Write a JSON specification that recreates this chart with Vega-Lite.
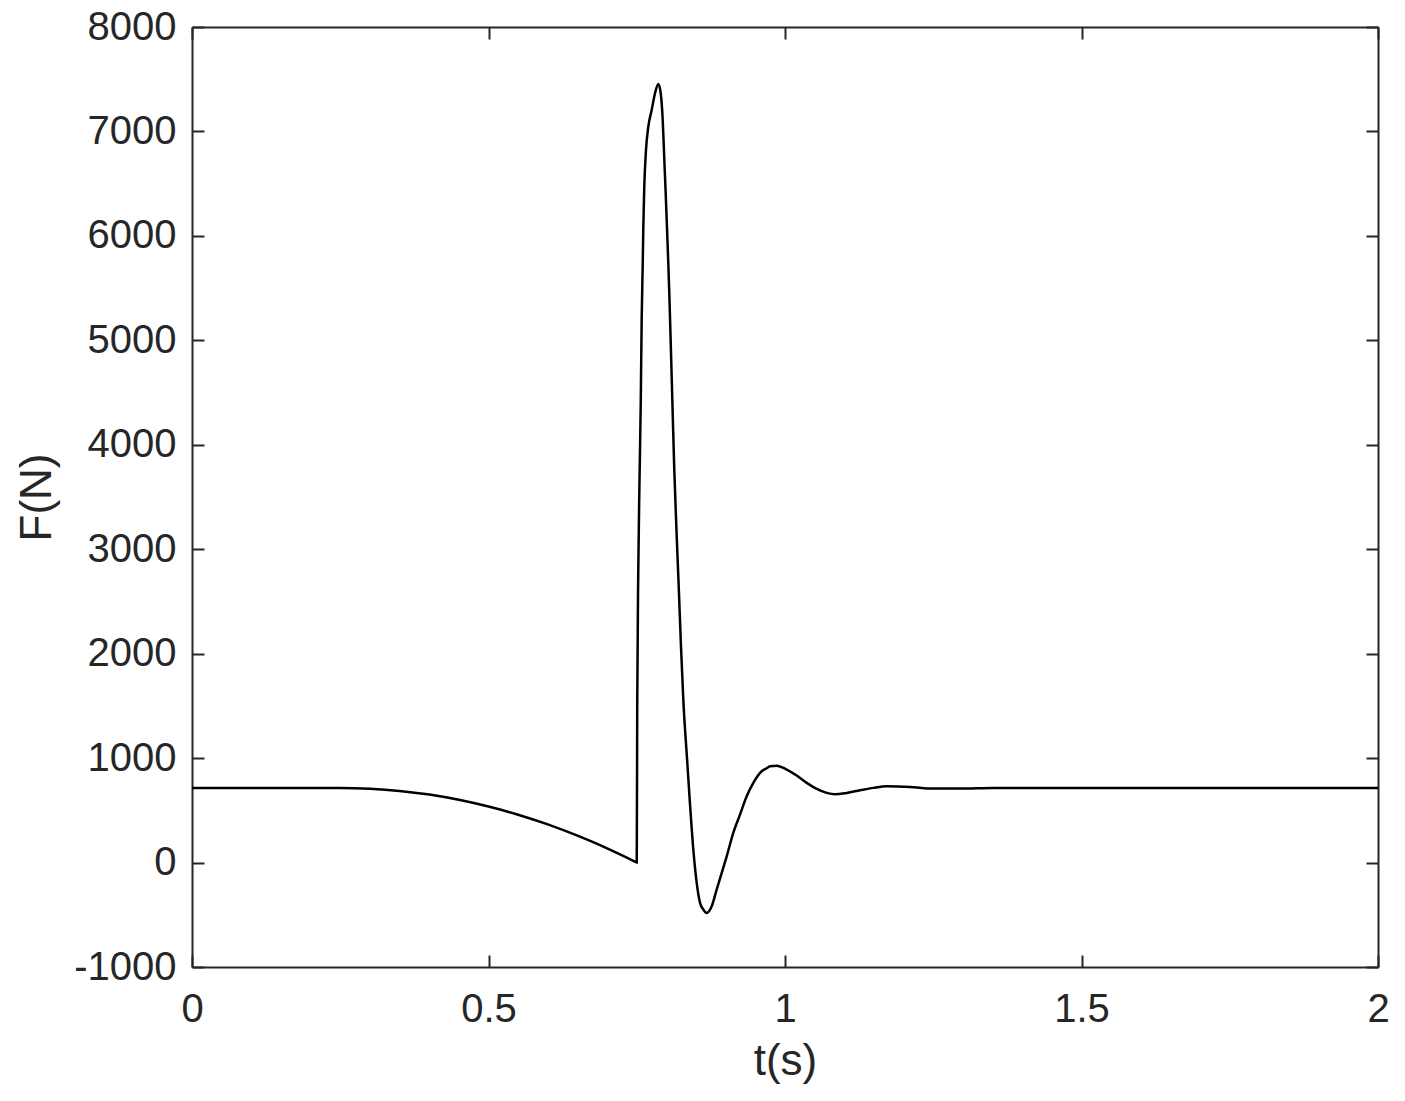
{
  "$schema": "https://vega.github.io/schema/vega-lite/v6.json",
  "width": 1186,
  "height": 940,
  "autosize": {"type": "none"},
  "padding": {"left": 192, "top": 27, "right": 27, "bottom": 134},
  "background": "white",
  "config": {
    "view": {"stroke": null},
    "axis": {
      "grid": false,
      "domainColor": "#262626",
      "domainWidth": 2,
      "tickColor": "#262626",
      "tickWidth": 2,
      "tickSize": -12,
      "labelFlush": false,
      "labelFont": "Liberation Sans",
      "labelFontSize": 40,
      "labelColor": "#262626",
      "titleFont": "Liberation Sans",
      "titleFontSize": 44,
      "titleFontWeight": "normal",
      "titleColor": "#262626"
    }
  },
  "data": {
    "values": [
      {"t": 0, "F": 715},
      {"t": 0.1, "F": 715},
      {"t": 0.2, "F": 715},
      {"t": 0.25, "F": 715},
      {"t": 0.3, "F": 707},
      {"t": 0.35, "F": 686},
      {"t": 0.4, "F": 651},
      {"t": 0.45, "F": 601},
      {"t": 0.5, "F": 536},
      {"t": 0.55, "F": 458},
      {"t": 0.6, "F": 365},
      {"t": 0.65, "F": 257},
      {"t": 0.7, "F": 136},
      {"t": 0.72, "F": 83},
      {"t": 0.735, "F": 42},
      {"t": 0.745, "F": 14},
      {"t": 0.7495, "F": 2},
      {"t": 0.75, "F": 0},
      {"t": 0.7508, "F": 1496},
      {"t": 0.7526, "F": 2804},
      {"t": 0.7543, "F": 3538},
      {"t": 0.7567, "F": 4383},
      {"t": 0.7583, "F": 5196},
      {"t": 0.76, "F": 5706},
      {"t": 0.7611, "F": 6089},
      {"t": 0.7627, "F": 6472},
      {"t": 0.7656, "F": 6823},
      {"t": 0.7695, "F": 7046},
      {"t": 0.7752, "F": 7206},
      {"t": 0.7808, "F": 7366},
      {"t": 0.7864, "F": 7455},
      {"t": 0.7904, "F": 7366},
      {"t": 0.7938, "F": 7110},
      {"t": 0.7965, "F": 6727},
      {"t": 0.7988, "F": 6408},
      {"t": 0.8022, "F": 5898},
      {"t": 0.8049, "F": 5451},
      {"t": 0.8078, "F": 4877},
      {"t": 0.8106, "F": 4303},
      {"t": 0.8133, "F": 3761},
      {"t": 0.8174, "F": 3122},
      {"t": 0.8212, "F": 2581},
      {"t": 0.8246, "F": 2070},
      {"t": 0.8285, "F": 1560},
      {"t": 0.8352, "F": 960},
      {"t": 0.8398, "F": 560},
      {"t": 0.8454, "F": 124},
      {"t": 0.8511, "F": -195},
      {"t": 0.8567, "F": -386},
      {"t": 0.8622, "F": -450},
      {"t": 0.868, "F": -482},
      {"t": 0.8764, "F": -418},
      {"t": 0.8848, "F": -258},
      {"t": 0.8933, "F": -99},
      {"t": 0.9017, "F": 60},
      {"t": 0.9128, "F": 284},
      {"t": 0.9241, "F": 459},
      {"t": 0.9354, "F": 634},
      {"t": 0.9466, "F": 763},
      {"t": 0.9607, "F": 874},
      {"t": 0.9691, "F": 903},
      {"t": 0.9747, "F": 922},
      {"t": 0.986, "F": 928},
      {"t": 1.0029, "F": 890},
      {"t": 1.0197, "F": 833},
      {"t": 1.0366, "F": 763},
      {"t": 1.0535, "F": 705},
      {"t": 1.0703, "F": 667},
      {"t": 1.0843, "F": 654},
      {"t": 1.104, "F": 667},
      {"t": 1.1265, "F": 692},
      {"t": 1.1489, "F": 715},
      {"t": 1.1715, "F": 730},
      {"t": 1.2108, "F": 724},
      {"t": 1.2501, "F": 708},
      {"t": 1.2951, "F": 708},
      {"t": 1.3513, "F": 715},
      {"t": 1.5, "F": 715},
      {"t": 1.75, "F": 715},
      {"t": 2.0, "F": 715}
    ]
  },
  "layer": [
    {
      "mark": {"type": "line", "color": "#000000", "strokeWidth": 2.5, "interpolate": "monotone", "clip": true},
      "encoding": {
        "x": {
          "field": "t", "type": "quantitative",
          "scale": {"domain": [0, 2], "nice": false, "zero": false},
          "axis": {"orient": "bottom", "values": [0, 0.5, 1, 1.5, 2], "labelExpr": "'' + datum.value", "title": "t(s)", "labelPadding": 34, "titlePadding": 10}
        },
        "y": {
          "field": "F", "type": "quantitative",
          "scale": {"domain": [-1000, 8000], "nice": false, "zero": false},
          "axis": {"orient": "left", "values": [-1000, 0, 1000, 2000, 3000, 4000, 5000, 6000, 7000, 8000], "labelExpr": "'' + datum.value", "title": "F(N)", "labelPadding": 28, "titlePadding": 14}
        }
      }
    },
    {
      "mark": {"type": "line", "opacity": 0},
      "encoding": {
        "x": {
          "field": "t", "type": "quantitative",
          "axis": {"orient": "top", "values": [0, 0.5, 1, 1.5, 2], "labels": false, "title": null}
        },
        "y": {
          "field": "F", "type": "quantitative",
          "axis": {"orient": "right", "values": [-1000, 0, 1000, 2000, 3000, 4000, 5000, 6000, 7000, 8000], "labels": false, "title": null}
        }
      }
    }
  ],
  "resolve": {"axis": {"x": "independent", "y": "independent"}}
}
